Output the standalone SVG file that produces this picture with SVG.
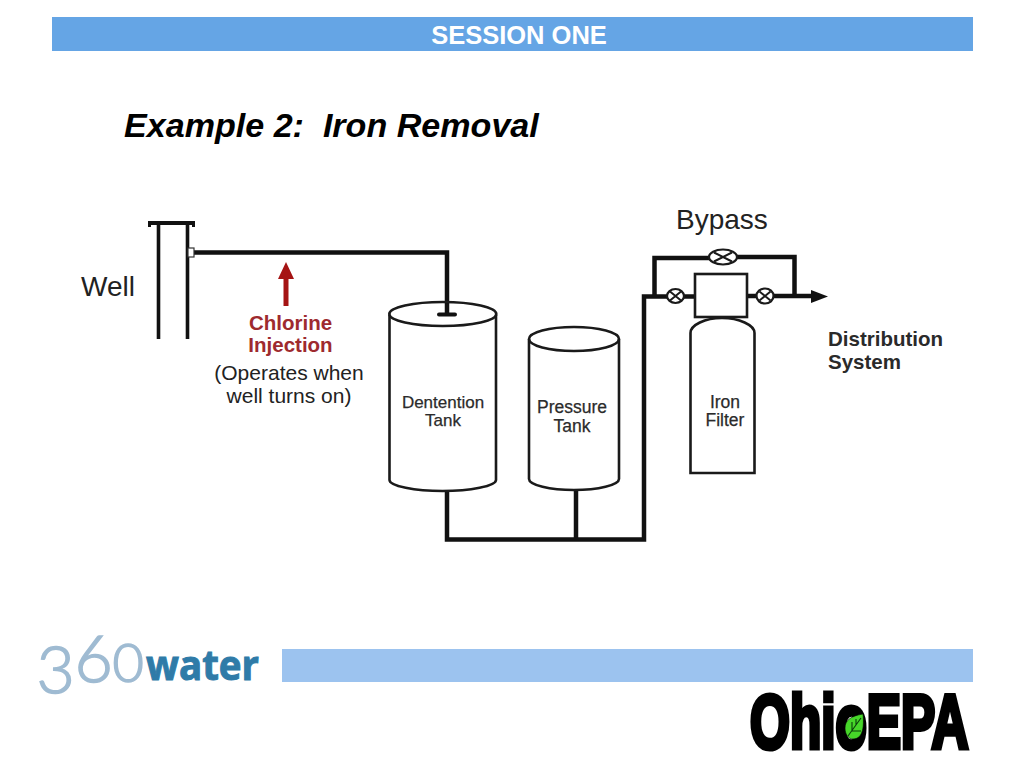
<svg xmlns="http://www.w3.org/2000/svg" width="1024" height="768" viewBox="0 0 1024 768">
<style>
text{font-family:"Liberation Sans",Arial,sans-serif;white-space:pre}
.pipe{fill:none;stroke:#111;stroke-width:4.500;stroke-linejoin:miter}
.thin{fill:#fff;stroke:#1a1a1a;stroke-width:2.600}
.well{fill:none;stroke:#111;stroke-width:3.600}
.lbl{font-size:17px;fill:#2b2b2b;text-anchor:middle;stroke:#2b2b2b;stroke-width:.25}
.big{font-size:28px;fill:#222}
.note{font-size:21px;fill:#222;text-anchor:middle}
.red{font-size:20.500px;font-weight:bold;fill:#9e2a2e;text-anchor:middle}
.dist{font-size:20.500px;font-weight:bold;fill:#2a2a2a}
.valve{fill:#fff;stroke:#1a1a1a;stroke-width:2.200}
</style>
<defs>
<g id="x"><path d="M-1 -1L1 1M-1 1L1 -1" fill="none" stroke="#1a1a1a" stroke-width="2" vector-effect="non-scaling-stroke"/></g>
</defs>
<rect width="1024" height="768" fill="#fff"/>
<g id="header"><rect x="52" y="17" width="921" height="34" fill="#65a5e5"/>
<text x="519" y="44" font-size="25.500" font-weight="bold" fill="#fff" text-anchor="middle">SESSION ONE</text></g>
<text id="title" x="124" y="137" font-size="34.100" font-weight="bold" font-style="italic" fill="#000">Example 2:  Iron Removal</text>

<g id="connectors">
<path class="pipe" d="M192 252.500H447V314"/>
<path class="pipe" d="M447 490V539.500H644V296.500H695"/>
<path class="pipe" d="M576 488V539"/>
<path class="pipe" d="M654.500 296V258H710M736 257H794.500V296"/>
<path class="pipe" d="M747 296H812"/>
<path d="M811 290L828 296.500L811 303Z" fill="#111"/>
</g>

<g id="well">
<path d="M148 223H195" fill="none" stroke="#111" stroke-width="4"/>
<path d="M149.500 222V227M193.500 222V227" fill="none" stroke="#111" stroke-width="3"/>
<path class="well" d="M158.500 224V339M187.500 224V339"/>
<rect x="188" y="248" width="6" height="9" fill="#fff" stroke="#333" stroke-width="1.200"/>
<text class="big" x="81" y="296">Well</text>
</g>

<g id="chlorine">
<path d="M283.500 306V279H278L286 262L294 279H288.500V306Z" fill="#a51414"/>
<text class="red" x="290.500" y="330">Chlorine</text>
<text class="red" x="290.500" y="351.500">Injection</text>
<text class="note" x="289" y="380">(Operates when</text>
<text class="note" x="289" y="403">well turns on)</text>
</g>

<g id="detention-tank">
<path class="thin" d="M389.500 315V480C389.500 486 415 491 442.500 491S496 486 496 480V315"/>
<ellipse class="thin" cx="442.800" cy="314" rx="53.500" ry="12" style="fill:none"/>
<path d="M447 305V314M439 314.500H455" fill="none" stroke="#111" stroke-width="4" stroke-linecap="round"/>
<text class="lbl" x="443" y="408">Dentention</text>
<text class="lbl" x="443" y="426">Tank</text>
</g>

<g id="pressure-tank">
<path class="thin" d="M529 339V479C529 485 550 490 574 490S619 485 619 479V339"/>
<ellipse class="thin" cx="574" cy="339" rx="45" ry="12" style="fill:none"/>
<text class="lbl" x="572" y="413" style="font-size:17.500px">Pressure</text>
<text class="lbl" x="572" y="432" style="font-size:17.500px">Tank</text>
</g>

<g id="iron-filter">
<path class="thin" d="M690.500 473V333C690.500 325 705 318 722 318S754.500 325 754.500 333V473Z"/>
<rect class="thin" x="695" y="274" width="52" height="43"/>
<text class="lbl" x="725" y="408" style="font-size:17.500px">Iron</text>
<text class="lbl" x="725" y="426" style="font-size:17.500px">Filter</text>
</g>

<g id="valve-in"><ellipse class="valve" cx="675.500" cy="296" rx="8.500" ry="7"/><use href="#x" transform="translate(675.500 296) scale(5.500 4.500)"/></g>
<g id="valve-out"><ellipse class="valve" cx="765" cy="296" rx="8.500" ry="7.500"/><use href="#x" transform="translate(765 296) scale(5.500 4.500)"/></g>
<g id="valve-bypass"><ellipse class="valve" cx="723" cy="257" rx="14" ry="7.500"/><use href="#x" transform="translate(723 257) scale(9 4.500)"/></g>

<text id="bypass-label" class="big" x="676" y="229">Bypass</text>
<g id="distribution"><text class="dist" x="828" y="346">Distribution</text>
<text class="dist" x="828" y="369">System</text></g>

<g id="logo-360">
<text fill="#9fbbd2" stroke="#9fbbd2" stroke-width="1.600" style="font-family:'Lato','Open Sans',sans-serif;font-weight:300"><tspan x="36.500" y="693" font-size="66">3</tspan><tspan x="74.500" y="682" font-size="66">6</tspan><tspan x="112.500" y="682" font-size="54">0</tspan></text>
<text x="146" y="680" font-size="41" font-weight="bold" fill="#2f7ba8" style="font-family:'Open Sans','Noto Sans',sans-serif" stroke="#2f7ba8" stroke-width="1" textLength="113" lengthAdjust="spacingAndGlyphs">water</text>
</g>
<rect id="footer-bar" x="282" y="649" width="691" height="33" fill="#9cc3ef"/>
<g id="logo-ohio-epa">
<text transform="translate(750 748) scale(.675 1)" font-size="76" font-weight="bold" fill="#000" stroke="#000" stroke-width="5">OhioEPA</text>
<path d="M845 728C845 720 851 716 863 714C864 724 864 739 853 739C848 739 845 734 845 728Z" fill="#46d629" stroke="#000" stroke-width=".6"/>
<path d="M848 736L861 718M852 731V722M852 731H861M856 725V719" fill="none" stroke="#0c3c0c" stroke-width="1.100"/>
</g>
</svg>
